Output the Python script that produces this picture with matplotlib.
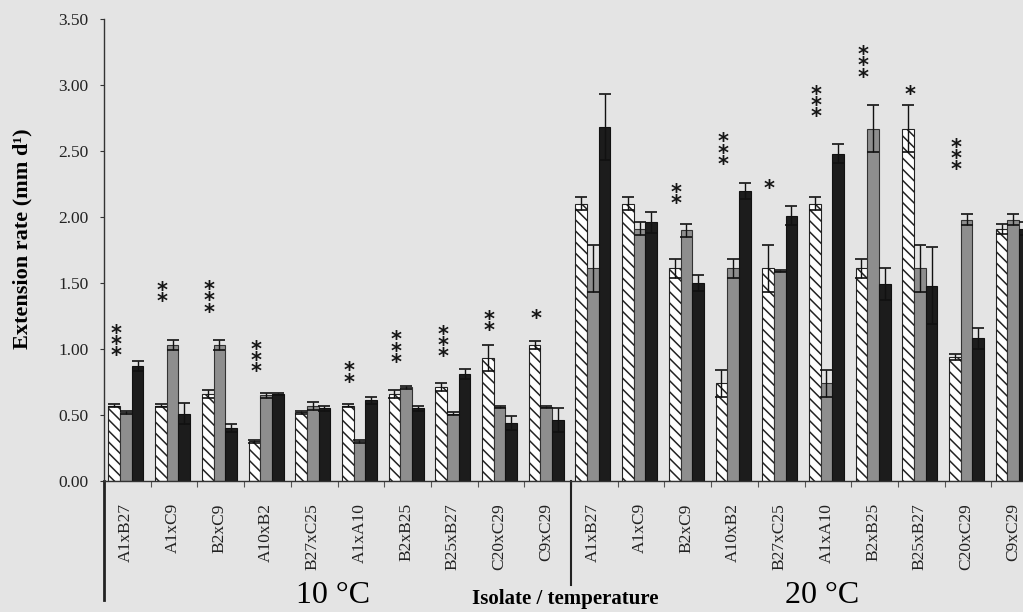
import matplotlib
matplotlib.use('Agg')
import matplotlib.pyplot as plt
import numpy as np

# isolate pairings, same order at both temperatures
pairs = ['A1xB27', 'A1xC9', 'B2xC9', 'A10xB2', 'B27xC25',
         'A1xA10', 'B2xB25', 'B25xB27', 'C20xC29', 'C9xC29']
labels = pairs + pairs
temps = ['10 °C', '20 °C']

# three series per pairing (hatched, grey, black)
hatched = [0.57, 0.57, 0.66, 0.30, 0.52, 0.57, 0.66, 0.71, 0.93, 1.03,
           2.10, 2.10, 1.61, 0.74, 1.61, 2.10, 1.61, 2.67, 0.94, 1.91]
hatched_err = [0.01, 0.01, 0.03, 0.01, 0.01, 0.01, 0.03, 0.03, 0.10, 0.03,
               0.05, 0.05, 0.07, 0.10, 0.18, 0.05, 0.07, 0.18, 0.02, 0.04]
grey = [0.52, 1.03, 1.03, 0.65, 0.57, 0.30, 0.71, 0.51, 0.56, 0.56,
        1.61, 1.91, 1.90, 1.61, 1.59, 0.74, 2.67, 1.61, 1.98, 1.98]
grey_err = [0.01, 0.04, 0.04, 0.02, 0.03, 0.01, 0.01, 0.01, 0.01, 0.01,
            0.18, 0.05, 0.05, 0.07, 0.01, 0.10, 0.18, 0.18, 0.04, 0.04]
black = [0.87, 0.51, 0.40, 0.66, 0.55, 0.61, 0.55, 0.81, 0.44, 0.46,
         2.68, 1.96, 1.50, 2.20, 2.01, 2.48, 1.49, 1.48, 1.08, 1.91]
black_err = [0.04, 0.08, 0.03, 0.01, 0.02, 0.03, 0.02, 0.04, 0.05, 0.09,
             0.25, 0.08, 0.06, 0.06, 0.07, 0.07, 0.12, 0.29, 0.08, 0.05]

# significance marks and the level where they start
stars = ['***', '**', '***', '***', '', '**', '***', '***', '**', '*',
         '', '', '**', '***', '*', '***', '***', '*', '***', '']
star_y = [0.89, 1.30, 1.22, 0.77, 0, 0.69, 0.84, 0.88, 1.08, 1.17,
          0, 0, 2.04, 2.34, 2.16, 2.70, 3.00, 2.87, 2.30, 0]

plt.rcParams['font.family'] = 'Liberation Serif'
plt.rcParams['hatch.linewidth'] = 1.1

W, H = 1023, 612
fig = plt.figure(figsize=(W / 100, H / 100), dpi=100)
fig.patch.set_facecolor('#e4e4e4')
ax = fig.add_axes([104 / W, 1 - 481 / H, 934 / W, 462 / H])
ax.set_facecolor('none')

x = np.arange(len(labels)) + 0.47
bw = 0.25
ebkw = dict(ecolor='#111111', elinewidth=1.0, capsize=4.5, capthick=1.2)

ax.bar(x - bw, hatched, bw, yerr=hatched_err, color='white', edgecolor='#222222',
       hatch='\\\\\\', linewidth=0.8, error_kw=ebkw)
ax.bar(x, grey, bw, yerr=grey_err, color='#8e8e8e', edgecolor='#333333',
       linewidth=0.8, error_kw=ebkw)
ax.bar(x + bw, black, bw, yerr=black_err, color='#1c1c1c', edgecolor='#111111',
       linewidth=0.8, error_kw=ebkw)

for i, s in enumerate(stars):
    if s:
        ax.text(x[i] - 0.22, star_y[i] - 0.02, '\n'.join(s), ha='center', va='bottom',
                fontsize=15, family='DejaVu Sans', fontweight='bold',
                linespacing=0.45, color='#151515')

ax.set_xlim(0, 20)
ax.set_ylim(0, 3.5)
ax.set_yticks(np.arange(0, 3.51, 0.5))
ax.set_yticklabels(['%.2f' % v for v in np.arange(0, 3.51, 0.5)], fontsize=12.5)
ax.tick_params(axis='y', direction='out', length=3, width=0.8, pad=8, colors='#333333',
               labelcolor='#222222')
ax.set_xticks(np.arange(0, 21, 1), minor=True)
ax.set_xticks(x)
ax.set_xticklabels(labels, rotation=90, fontsize=12.5, color='#222222')
ax.tick_params(axis='x', which='major', length=0, pad=16)
ax.tick_params(axis='x', which='minor', direction='out', length=4, width=0.8, color='#555555')

for sp in ['top', 'right']:
    ax.spines[sp].set_visible(False)
for sp in ['left', 'bottom']:
    ax.spines[sp].set_color('#333333')
    ax.spines[sp].set_linewidth(1.0)

# category separators below the axis
tr = ax.get_xaxis_transform()
ax.plot([0, 0], [0, -0.258], transform=tr, color='#222222', lw=2.0, clip_on=False)
ax.plot([10, 10], [0, -0.225], transform=tr, color='#222222', lw=1.5, clip_on=False)

ax.set_ylabel('Extension rate (mm d¹)', fontsize=16, fontweight='bold', labelpad=12)
ax.yaxis.set_label_coords(-(104 - 32) / 934, (481 - 239) / 462)

fig.text(333 / W, 1 - 603 / H, temps[0], ha='center', va='baseline', fontsize=23)
fig.text(822 / W, 1 - 603 / H, temps[1], ha='center', va='baseline', fontsize=23)
fig.text(565 / W, 1 - 604 / H, 'Isolate / temperature', ha='center', va='baseline',
         fontsize=15, fontweight='bold')

fig.savefig('out.png', dpi=100, facecolor=fig.get_facecolor())
